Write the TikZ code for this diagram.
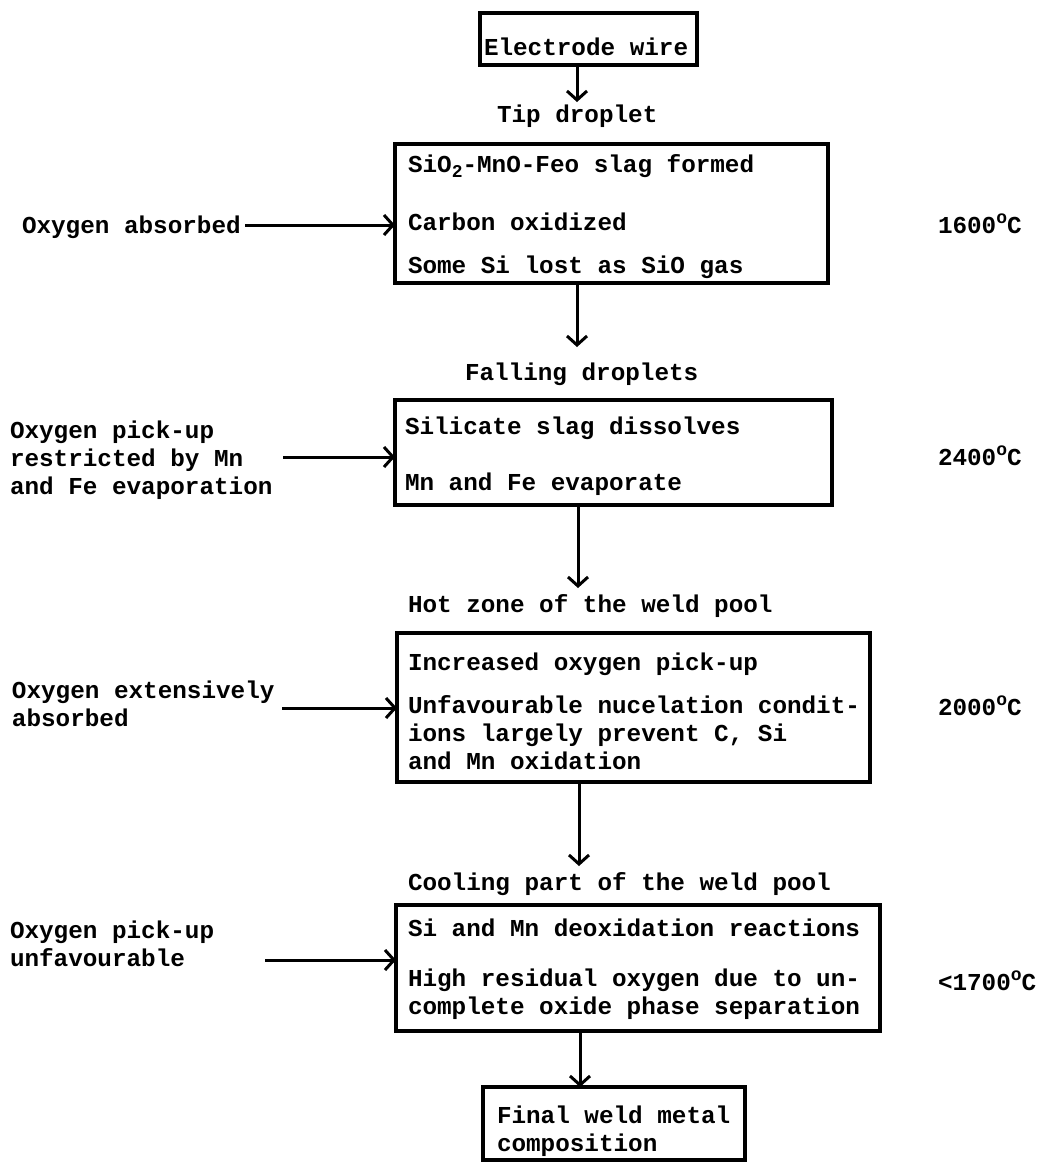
\documentclass[tikz,border=0pt]{standalone}
\usepackage{fontspec}
\setmonofont{Liberation Mono}
\usetikzlibrary{arrows.meta}
\newcommand{\subtwo}{\raisebox{-0.45ex}{\fontsize{18}{18}\selectfont 2}}
\newcommand{\degr}{\raisebox{0.75ex}{\fontsize{18}{18}\selectfont o}}
\begin{document}
\begin{tikzpicture}[x=1pt,y=-1pt,
  every node/.style={font=\ttfamily\bfseries\fontsize{24.3}{28}\selectfont, inner sep=0pt, outer sep=0pt},
  box/.style={draw, line width=3.2pt},
  txt/.style={anchor=base west, align=left},
  arr/.style={line width=3pt, -{Straight Barb[length=9pt,width=20pt,line width=3pt]}}]
\useasboundingbox (0,0) rectangle (1042,1163);

% boxes
\node[box, minimum width=217, minimum height=52] (b1) at (588.5,39) {};
\node[box, minimum width=433, minimum height=139] (b2) at (611.5,213.5) {};
\node[box, minimum width=437, minimum height=105] (b3) at (613.5,452.5) {};
\node[box, minimum width=473, minimum height=149] (b4) at (633.5,707.5) {};
\node[box, minimum width=484, minimum height=126] (b5) at (638,968) {};
\node[box, minimum width=262, minimum height=73] (b6) at (614,1123.5) {};

% box texts (anchor on the baseline of the last line)
\node[txt] (t1) at (484,55) {Electrode wire};
\node[txt] (t2a) at (408,172) {SiO\subtwo-MnO-Feo slag formed};
\node[txt] (t2b) at (408,230) {Carbon oxidized};
\node[txt] (t2c) at (408,273) {Some Si lost as SiO gas};
\node[txt] (t3a) at (405,434) {Silicate slag dissolves};
\node[txt] (t3b) at (405,490) {Mn and Fe evaporate};
\node[txt] (t4a) at (408,670) {Increased oxygen pick-up};
\node[txt] (t4b) at (408,769) {Unfavourable nucelation condit-\\ions largely prevent C, Si\\and Mn oxidation};
\node[txt] (t5a) at (408,936) {Si and Mn deoxidation reactions};
\node[txt] (t5b) at (408,1014) {High residual oxygen due to un-\\complete oxide phase separation};
\node[txt] (t6) at (497,1151) {Final weld metal\\composition};

% stage labels
\node[txt] (l1) at (497,122) {Tip droplet};
\node[txt] (l2) at (465,380) {Falling droplets};
\node[txt] (l3) at (408,612) {Hot zone of the weld pool};
\node[txt] (l4) at (408,890) {Cooling part of the weld pool};

% left labels
\node[txt] (o1) at (22,233) {Oxygen absorbed};
\node[txt] (o2) at (10,494) {Oxygen pick-up\\restricted by Mn\\and Fe evaporation};
\node[txt] (o3) at (12,726) {Oxygen extensively\\absorbed};
\node[txt] (o4) at (10,966) {Oxygen pick-up\\unfavourable};

% temperatures
\node[txt] (c1) at (938,233) {1600\degr C};
\node[txt] (c2) at (938,465) {2400\degr C};
\node[txt] (c3) at (938,715) {2000\degr C};
\node[txt] (c4) at (938,990) {<1700\degr C};

% vertical connectors
\coordinate (a1) at (577,102);
\coordinate (a2) at (577,347);
\coordinate (a3) at (578,588);
\coordinate (a4) at (579,866);
\coordinate (a5) at (580,1031);
\draw[arr] (b1.south -| a1) -- (a1);
\draw[arr] (b2.south -| a2) -- (a2);
\draw[arr] (b3.south -| a3) -- (a3);
\draw[arr] (b4.south -| a4) -- (a4);
\draw[arr] (a5) -- (b6.north -| a5);

% horizontal connectors
\coordinate (s1) at (245,225);
\coordinate (s2) at (283,457);
\coordinate (s3) at (282,708);
\coordinate (s4) at (265,960);
\draw[arr] (s1) -- (b2.west |- s1);
\draw[arr] (s2) -- (b3.west |- s2);
\draw[arr] (s3) -- (b4.west |- s3);
\draw[arr] (s4) -- (b5.west |- s4);
\end{tikzpicture}
\end{document}
